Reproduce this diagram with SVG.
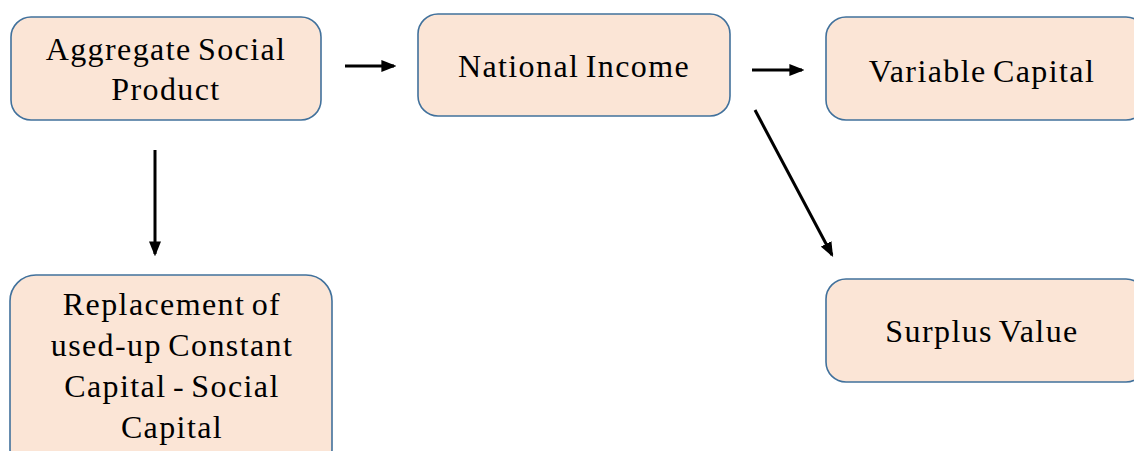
<svg xmlns="http://www.w3.org/2000/svg" width="1134" height="451" viewBox="0 0 1134 451">
<style>
.box{fill:#FBE5D6;stroke:#41719C;stroke-width:1.6}
.t{font-family:"Liberation Serif","DejaVu Serif",serif;font-size:32px;fill:#000;text-anchor:middle;letter-spacing:1.4px;word-spacing:-3px}
.c{stroke:#000;stroke-width:3;fill:none;marker-end:url(#ah)}
</style>
<defs>
<marker id="ah" markerWidth="5" markerHeight="4" refX="4.2" refY="2" orient="auto" markerUnits="strokeWidth">
<path d="M0,0 L5,2 L0,4 z" fill="#000"/>
</marker>
</defs>
<rect width="1134" height="451" fill="#fff"/>
<g id="connectors">
<line class="c" x1="345" y1="66" x2="394" y2="66"/>
<line class="c" x1="752" y1="70" x2="802" y2="70"/>
<line class="c" x1="155" y1="150" x2="155" y2="254"/>
<line class="c" x1="755" y1="110" x2="832" y2="255"/>
</g>
<g id="aggregate-social-product">
<rect class="box" x="11" y="17" width="310" height="103" rx="20"/>
<text class="t" x="166" y="60">Aggregate Social</text>
<text class="t" x="166" y="100">Product</text>
</g>
<g id="national-income">
<rect class="box" x="418" y="14" width="312" height="102" rx="20"/>
<text class="t" x="574" y="77">National Income</text>
</g>
<g id="variable-capital">
<rect class="box" x="826" y="17" width="320" height="103" rx="20"/>
<text class="t" x="982" y="82">Variable Capital</text>
</g>
<g id="replacement">
<rect class="box" x="10" y="275" width="322" height="200" rx="26"/>
<text class="t" x="172" y="315">Replacement of</text>
<text class="t" x="172" y="356">used-up Constant</text>
<text class="t" x="172" y="397">Capital - Social</text>
<text class="t" x="172" y="438">Capital</text>
</g>
<g id="surplus-value">
<rect class="box" x="826" y="279" width="320" height="103" rx="20"/>
<text class="t" x="982" y="342">Surplus Value</text>
</g>
</svg>
